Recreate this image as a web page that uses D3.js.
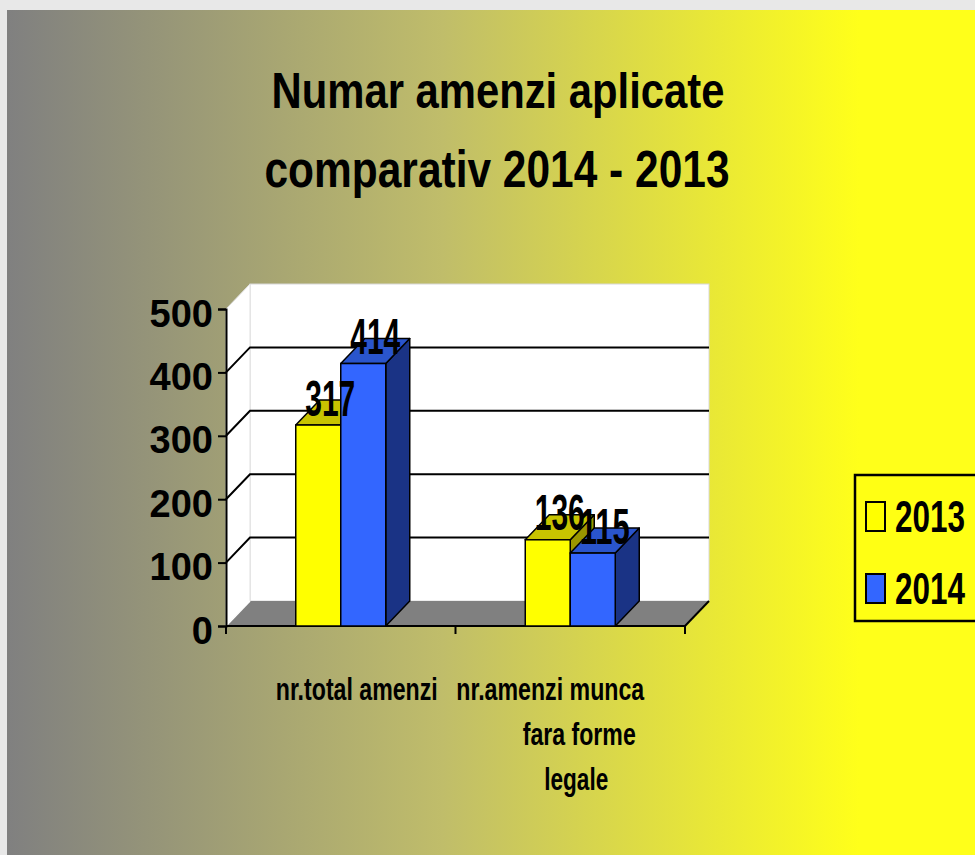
<!DOCTYPE html>
<html>
<head>
<meta charset="utf-8">
<script src="https://cdn.jsdelivr.net/npm/d3@7"></script>
<style>
  html, body { margin: 0; padding: 0; background: #e8e8e8; }
  svg { display: block; }
  text { font-family: "Liberation Sans Narrow", "Arial Narrow", "Liberation Sans", sans-serif; font-weight: bold; fill: #000; }
</style>
</head>
<body>
<div class="chart"></div>
<script>
var categories = ["nr.total amenzi", "nr.amenzi munca fara forme legale"];
var categoryLines = [["nr.total amenzi"], ["nr.amenzi munca", "fara forme", "legale"]];
var years = ["2013", "2014"];
var values2013 = [317, 136];
var values2014 = [414, 115];
var yTicks = [0, 100, 200, 300, 400, 500];
var titleLines = ["Numar amenzi aplicate", "comparativ 2014 - 2013"];

var W = 975, H = 855;
var depth = {dx: 24, dy: -25};

var colors = {
  "2013": {front: "#ffff00", top: "#c8c400", side: "#9a9600"},
  "2014": {front: "#3366ff", top: "#2a55cc", side: "#1a3385"}
};

var svg = d3.select(".chart")
  .append("svg")
    .attr("width", W)
    .attr("height", H);

// background gradient gray -> yellow
var defs = svg.append("defs");
var grad = defs.append("linearGradient")
  .attr("id", "bg")
  .attr("x1", "0%").attr("x2", "100%").attr("y1", "0%").attr("y2", "0%");
grad.append("stop").attr("offset", "0%").attr("stop-color", "#808080");
grad.append("stop").attr("offset", "45%").attr("stop-color", "#c0bd6a");
grad.append("stop").attr("offset", "88%").attr("stop-color", "#ffff1a");
grad.append("stop").attr("offset", "100%").attr("stop-color", "#ffff1a");

svg.append("rect")
  .attr("x", 7).attr("y", 10)
  .attr("width", W - 7).attr("height", H - 10)
  .attr("fill", "url(#bg)");

// Title
svg.selectAll(".title")
  .data(titleLines)
  .enter()
  .append("text")
  .attr("class", "title")
  .attr("x", function(d, i) { return i === 0 ? 498 : 497; })
  .attr("y", function(d, i) { return i === 0 ? 108 : 187; })
  .attr("text-anchor", "middle")
  .attr("font-size", function(d, i) { return i === 0 ? 50 : 52; })
  .attr("textLength", function(d, i) { return i === 0 ? 453 : 465; })
  .attr("lengthAdjust", "spacingAndGlyphs")
  .text(function(d) { return d; });

// scales
var x0 = d3.scaleBand()
  .domain(categories)
  .range([226, 685])
  .padding(0);

var x1 = d3.scaleBand()
  .domain(years)
  .range([0, x0.bandwidth()])
  .paddingInner(0)
  .paddingOuter(1.55);

var y = d3.scaleLinear()
  .domain([0, 500])
  .range([626, 309]);

var xL = x0.range()[0], xR = x0.range()[1];
var dx = depth.dx, dy = depth.dy;

// back wall
svg.append("rect")
  .attr("x", xL + dx).attr("y", y(500) + dy)
  .attr("width", xR - xL).attr("height", y(0) - y(500))
  .attr("fill", "#fff")
  .attr("stroke", "#d8d8d8")
  .attr("stroke-width", 1);

// left wall
svg.append("path")
  .attr("d", "M" + xL + "," + y(0) + "L" + xL + "," + y(500) +
             "L" + (xL + dx) + "," + (y(500) + dy) + "L" + (xL + dx) + "," + (y(0) + dy) + "Z")
  .attr("fill", "#fff")
  .attr("stroke", "#e0e0e0")
  .attr("stroke-width", 1);

// floor
svg.append("path")
  .attr("d", "M" + xL + "," + y(0) + "L" + (xL + dx) + "," + (y(0) + dy) +
             "L" + (xR + dx) + "," + (y(0) + dy) + "L" + xR + "," + y(0) + "Z")
  .attr("fill", "#808080");

svg.append("line")
  .attr("x1", xR).attr("y1", y(0))
  .attr("x2", xR + dx).attr("y2", y(0) + dy)
  .attr("stroke", "#000").attr("stroke-width", 2);

svg.append("line")
  .attr("x1", xL).attr("y1", y(0))
  .attr("x2", xL + dx).attr("y2", y(0) + dy)
  .attr("stroke", "#fff").attr("stroke-width", 1.5);

// gridlines
var grid = svg.append("g").attr("class", "grid");
yTicks.filter(function(v) { return v > 0 && v < 500; }).forEach(function(v) {
  grid.append("path")
    .attr("d", "M" + xL + "," + y(v) + "L" + (xL + dx) + "," + (y(v) + dy) + "L" + (xR + dx) + "," + (y(v) + dy))
    .attr("fill", "none")
    .attr("stroke", "#000")
    .attr("stroke-width", 2);
});

// y axis
var gY = svg.append("g")
  .attr("transform", "translate(" + xL + ",0)")
  .call(d3.axisLeft(y).tickValues(yTicks).tickSize(8).tickPadding(5).tickFormat(d3.format("d")));
gY.select(".domain").attr("stroke", "#000").attr("stroke-width", 2);
gY.selectAll(".tick line").attr("stroke", "#000").attr("stroke-width", 2);
gY.selectAll(".tick text")
  .attr("font-size", 38)
  .attr("dy", "0.45em")
  .attr("font-family", null)
  .style("font-family", '"Liberation Sans Narrow", "Arial Narrow", sans-serif')
  .style("font-weight", "bold");

// x axis line + ticks
svg.append("line")
  .attr("x1", xL).attr("y1", y(0)).attr("x2", xR).attr("y2", y(0))
  .attr("stroke", "#000").attr("stroke-width", 2);
var xTickPos = [xL].concat(categories.map(function(c) { return x0(c) + x0.bandwidth(); }));
svg.selectAll(".xtick")
  .data(xTickPos)
  .enter()
  .append("line")
  .attr("class", "xtick")
  .attr("x1", function(d) { return d; }).attr("x2", function(d) { return d; })
  .attr("y1", y(0)).attr("y2", y(0) + 8)
  .attr("stroke", "#000").attr("stroke-width", 2);

// bars
var barData = [];
categories.forEach(function(c, i) {
  barData.push({cat: c, year: "2013", value: values2013[i]});
  barData.push({cat: c, year: "2014", value: values2014[i]});
});

var bars = svg.append("g").attr("class", "bars");
barData.forEach(function(d) {
  var bx = x0(d.cat) + x1(d.year);
  var bw = x1.bandwidth();
  var top = y(d.value), base = y(0);
  var c = colors[d.year];
  var g = bars.append("g");
  // side
  g.append("path")
    .attr("d", "M" + (bx + bw) + "," + base + "L" + (bx + bw + dx) + "," + (base + dy) +
               "L" + (bx + bw + dx) + "," + (top + dy) + "L" + (bx + bw) + "," + top + "Z")
    .attr("fill", c.side).attr("stroke", "#000").attr("stroke-width", 1.5).attr("stroke-linejoin", "round");
  // top
  g.append("path")
    .attr("d", "M" + bx + "," + top + "L" + (bx + dx) + "," + (top + dy) +
               "L" + (bx + bw + dx) + "," + (top + dy) + "L" + (bx + bw) + "," + top + "Z")
    .attr("fill", c.top).attr("stroke", "#000").attr("stroke-width", 1.5).attr("stroke-linejoin", "round");
  // front
  g.append("rect")
    .attr("x", bx).attr("y", top)
    .attr("width", bw).attr("height", base - top)
    .attr("fill", c.front).attr("stroke", "#000").attr("stroke-width", 1.5);
});

// value labels
svg.selectAll(".value-label")
  .data(barData)
  .enter()
  .append("text")
  .attr("class", "value-label")
  .attr("x", function(d) { return x0(d.cat) + x1(d.year) + x1.bandwidth() / 2 + dx / 2; })
  .attr("y", function(d) { return y(d.value) + dy / 2 + 3; })
  .attr("text-anchor", "middle")
  .attr("font-size", 50)
  .attr("textLength", 50)
  .attr("lengthAdjust", "spacingAndGlyphs")
  .text(function(d) { return d.value; });

// category labels
var lineWidths = [[162], [188, 113, 64]];
var lineShift = [[8], [-28, 1, -2]];
categories.forEach(function(c, i) {
  var cx = x0(c) + x0.bandwidth() / 2 + dx / 2 - 4;
  svg.selectAll(".cat" + i)
    .data(categoryLines[i])
    .enter()
    .append("text")
    .attr("class", "cat-label")
    .attr("x", function(d, j) { return cx + lineShift[i][j]; })
    .attr("y", function(d, j) { return 700 + j * 45; })
    .attr("text-anchor", "middle")
    .attr("font-size", 31)
    .attr("textLength", function(d, j) { return lineWidths[i][j]; })
    .attr("lengthAdjust", "spacingAndGlyphs")
    .text(function(d) { return d; });
});

// legend
var legend = svg.append("g").attr("class", "legend");
legend.append("rect")
  .attr("x", 855).attr("y", 475)
  .attr("width", 140).attr("height", 146)
  .attr("fill", "#ffff14")
  .attr("stroke", "#000").attr("stroke-width", 2.5);

var ly = d3.scalePoint().domain(years).range([517, 589]);
years.forEach(function(yr) {
  legend.append("rect")
    .attr("x", 866).attr("y", ly(yr) - 15)
    .attr("width", 19).attr("height", 29)
    .attr("fill", colors[yr].front)
    .attr("stroke", "#000").attr("stroke-width", 2);
  legend.append("text")
    .attr("x", 895).attr("y", ly(yr) + 15)
    .attr("font-size", 45)
    .attr("textLength", 70)
    .attr("lengthAdjust", "spacingAndGlyphs")
    .text(yr);
});
</script>
</body>
</html>
